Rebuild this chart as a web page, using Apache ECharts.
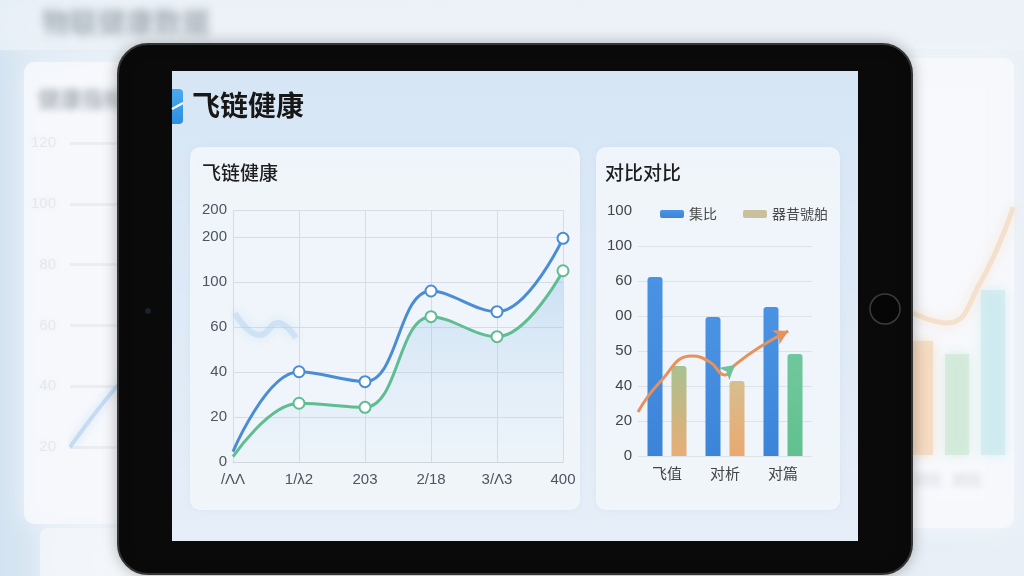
<!DOCTYPE html>
<html><head><meta charset="utf-8">
<script src="https://cdn.jsdelivr.net/npm/echarts@6/dist/echarts.min.js"></script>
<style>html,body{margin:0;padding:0;background:#e6eef6;}#c{width:1024px;height:576px;}</style>
</head><body><div id="c"></div>
<script>
// ---------- text ----------
const pageTitle = '飞链健康';
const lineCardTitle = '飞链健康';
const barCardTitle = '对比对比';
const bgPageTitle = '物联健康数据';
const bgPanelTitle = '健康指标数据';

// ---------- line chart ----------
const lineCats = ['/ΛΛ', '1/λ2', '203', '2/18', '3/Λ3', '400'];
const lineBlue = [4.6, 40.1, 35.7, 76.0, 66.8, 99.4];
const lineGreen = [2.4, 26.1, 24.3, 64.6, 55.7, 85.0];
const lineTickValues = [0, 20, 40, 60, 80, 100, 112];
const lineTickLabels = ['0', '20', '40', '60', '100', '200', '200'];
const ghostLine = [[0.03, 66.2], [0.41, 56.4], [0.68, 61.8], [0.95, 55.1]];

// ---------- bar chart ----------
const barCats = ['飞值', '对析', '对篇'];
const barLegend = ['集比', '器昔號舶'];
const barBlue = [102.3, 79.4, 85.1];
const barSecond = [51.4, 42.9, 58.3];
const barTickValues = [0, 20, 40, 60, 80, 100, 120, 140];
const barTickLabels = ['0', '20', '40', '50', '00', '60', '100', '100'];
const trendLine = [[0, 25.1], [0.38, 42.3], [0.93, 57.1], [1.24, 53.7], [1.5, 46.3], [1.67, 52], [2.1, 62.3], [2.59, 71.4]];

// ---------- blurred background charts ----------
const bgRightBars = [[0.5, 38], [1.5, 33.7], [2.5, 55]];
const bgRightLine = [[0.28, 47.3], [1.22, 44], [2.14, 57.3], [3.06, 82.7]];
const bgLeftLine = [[0, 20], [0.5, 41], [1, 55]];
const bgLeftTicks = ['20', '40', '60', '80', '100', '120'];

// ---------- styles ----------
const FF = '"Noto Sans CJK SC", "Noto Sans", sans-serif';
const NF = '"Liberation Sans", "Noto Sans CJK SC", sans-serif';
const BLUE = '#4a8dd4';
const GREEN = '#5fbd91';
const ORANGE = '#e8925a';
const secondBarColors = [
  ['#a9c18f', '#e9ad77'],
  ['#d7bf8f', '#eaa870'],
  ['#6fc89c', '#62c08f']
];
const bgBarColors = ['#f3d6b8', '#cde8d5', '#cbeaee'];
const grad = (c) => new echarts.graphic.LinearGradient(0, 0, 0, 1, [{offset: 0, color: c[0]}, {offset: 1, color: c[1]}]);
const hidden = {show: false};

const chart = echarts.init(document.getElementById('c'), null, {renderer: 'canvas'});

const OFF = 3000; // off-canvas trick for blurred (shadow-only) text

const option = {
  animation: false,
  textStyle: {fontFamily: FF},
  title: [
    {text: pageTitle, left: 192, top: 91, padding: 0, textStyle: {fontSize: 28, fontWeight: 'bold', color: '#171717', fontFamily: FF}},
    {text: lineCardTitle, left: 202, top: 163, padding: 0, textStyle: {fontSize: 19, fontWeight: 500, color: '#1e1e1e', fontFamily: FF}},
    {text: barCardTitle, left: 605, top: 163, padding: 0, textStyle: {fontSize: 19, fontWeight: 500, color: '#1e1e1e', fontFamily: FF}}
  ],
  legend: {
    left: 660, top: 207, padding: 0, itemWidth: 24, itemHeight: 8, itemGap: 26,
    textStyle: {fontSize: 14, color: '#4a4a4a', fontFamily: FF},
    data: [{name: barLegend[0]}, {name: barLegend[1], itemStyle: {color: '#c9c19b'}}]
  },
  graphic: [
    {type: 'rect', z: -100, shape: {x: 0, y: 0, width: 1024, height: 576},
      style: {fill: new echarts.graphic.LinearGradient(0, 0, 1, 0, [{offset: 0, color: '#d3e3f1'}, {offset: 0.12, color: '#e5edf5'}, {offset: 1, color: '#e8eff6'}])}},
    {type: 'rect', z: -95, shape: {x: 0, y: 0, width: 1024, height: 50},
      style: {fill: 'rgba(236,242,248,0.7)', shadowBlur: 20, shadowColor: 'rgba(236,242,248,0.8)'}},
    {type: 'rect', z: -90, shape: {x: 24, y: 62, width: 190, height: 462, r: 10},
      style: {fill: 'rgba(247,249,252,0.8)', shadowBlur: 24, shadowColor: 'rgba(247,249,252,0.9)'}},
    {type: 'rect', z: -90, shape: {x: 890, y: 58, width: 124, height: 470, r: 10},
      style: {fill: 'rgba(247,249,252,0.8)', shadowBlur: 24, shadowColor: 'rgba(247,249,252,0.9)'}},
    {type: 'rect', z: -90, shape: {x: 40, y: 528, width: 160, height: 60, r: 8},
      style: {fill: 'rgba(245,248,251,0.7)', shadowBlur: 20, shadowColor: 'rgba(245,248,251,0.8)'}},
    {type: 'text', z: -85, x: 42 - OFF, y: 8,
      style: {text: bgPageTitle, font: 'bold 28px ' + FF, fill: '#000', textShadowColor: 'rgba(80,90,105,0.45)', textShadowBlur: 9, textShadowOffsetX: OFF}},
    {type: 'text', z: -85, x: 38 - OFF, y: 88,
      style: {text: bgPanelTitle, font: 'bold 22px ' + FF, fill: '#000', textShadowColor: 'rgba(80,90,105,0.45)', textShadowBlur: 7, textShadowOffsetX: OFF}},
    {type: 'text', z: -85, x: 912 - OFF, y: 472,
      style: {text: '对比   对比', font: '15px ' + FF, fill: '#000', textShadowColor: 'rgba(90,100,115,0.3)', textShadowBlur: 6, textShadowOffsetX: OFF}},
    // tablet
    {type: 'rect', z: -10, shape: {x: 118, y: 44, width: 794, height: 530, r: 30},
      style: {fill: '#0a0a0a', stroke: '#353535', lineWidth: 2, shadowBlur: 14, shadowColor: 'rgba(0,0,0,0.25)'}},
    {type: 'circle', z: -9, shape: {cx: 148, cy: 311, r: 3}, style: {fill: '#1a222e'}},
    {type: 'circle', z: -9, shape: {cx: 885, cy: 309, r: 15}, style: {fill: '#060606', stroke: '#3c3c3c', lineWidth: 1.5}},
    {type: 'rect', z: -9, shape: {x: 172, y: 71, width: 686, height: 470},
      style: {fill: new echarts.graphic.LinearGradient(0, 0, 0, 1, [{offset: 0, color: '#d6e6f5'}, {offset: 1, color: '#e6eef8'}])}},
    {type: 'rect', z: -8, shape: {x: 172, y: 89, width: 11, height: 35, r: [0, 4, 4, 0]},
      style: {fill: new echarts.graphic.LinearGradient(0, 0, 0, 1, [{offset: 0, color: '#4aaaf0'}, {offset: 1, color: '#2e8ee0'}])}},
    {type: 'line', z: -7, shape: {x1: 172, y1: 109, x2: 183, y2: 103}, style: {stroke: '#ffffff', lineWidth: 2}},
    {type: 'rect', z: -8, shape: {x: 190, y: 147, width: 390, height: 363, r: 10},
      style: {fill: 'rgba(243,247,251,0.88)', shadowBlur: 6, shadowColor: 'rgba(140,165,195,0.15)'}},
    {type: 'rect', z: -8, shape: {x: 596, y: 147, width: 244, height: 363, r: 10},
      style: {fill: 'rgba(243,247,251,0.88)', shadowBlur: 6, shadowColor: 'rgba(140,165,195,0.15)'}}
  ],
  grid: [
    {left: 233, top: 210, width: 330, height: 252},
    {left: 638, top: 211, width: 174, height: 245},
    {left: 903, top: 155, width: 115.2, height: 300},
    {left: 70, top: 143, width: 100, height: 304}
  ],
  xAxis: [
    {type: 'category', gridIndex: 0, data: lineCats, boundaryGap: false,
      axisLine: {lineStyle: {color: '#cfd6de'}}, axisTick: hidden,
      axisLabel: {margin: 10, fontSize: 15, color: '#4d5561', fontFamily: NF},
      splitLine: {show: true, lineStyle: {color: '#d6dce4'}}},
    {type: 'category', gridIndex: 1, data: barCats,
      axisLine: hidden, axisTick: hidden,
      axisLabel: {margin: 10, fontSize: 15, color: '#444', fontFamily: FF}, splitLine: hidden},
    {type: 'value', gridIndex: 0, min: 0, max: 5, show: false},
    {type: 'value', gridIndex: 1, min: 0, max: 3, show: false},
    {type: 'value', gridIndex: 2, min: 0, max: 3.2, show: false},
    {type: 'value', gridIndex: 3, min: 0, max: 1, show: false}
  ],
  yAxis: [
    {type: 'value', gridIndex: 0, min: 0, max: 112, interval: 20,
      axisLine: hidden, axisTick: hidden,
      axisLabel: {margin: 6, fontSize: 15, color: '#4d5561', fontFamily: NF,
        formatter: (v) => { const i = lineTickValues.indexOf(v); return i >= 0 ? lineTickLabels[i] : ''; }},
      splitLine: {lineStyle: {color: '#d6dce4'}}},
    {type: 'value', gridIndex: 1, min: 0, max: 140, interval: 20,
      axisLine: hidden, axisTick: hidden,
      axisLabel: {margin: 6, fontSize: 15, color: '#444', fontFamily: NF,
        formatter: (v) => { const i = barTickValues.indexOf(v); return i >= 0 ? barTickLabels[i] : ''; }},
      splitLine: {showMaxLine: false, lineStyle: {color: '#dde2e8'}}},
    {type: 'value', gridIndex: 2, min: 0, max: 100, show: false},
    {type: 'value', gridIndex: 3, min: 20, max: 120, interval: 20, z: -60,
      axisLine: hidden, axisTick: hidden,
      axisLabel: {margin: 14, fontSize: 15, color: 'rgba(160,168,178,0.18)', fontFamily: NF,
        textShadowColor: 'rgba(150,158,170,0.6)', textShadowBlur: 8,
        formatter: (v) => bgLeftTicks[(v - 20) / 20] || ''},
      splitLine: {lineStyle: {color: 'rgba(220,226,233,0.45)', width: 3}}}
  ],
  series: [
    // blurred background charts
    {type: 'bar', xAxisIndex: 4, yAxisIndex: 2, z: -60, barWidth: 24,
      data: bgRightBars.map((d, i) => ({value: d, itemStyle: {color: bgBarColors[i], opacity: 0.7, shadowBlur: 12, shadowColor: bgBarColors[i]}}))},
    {type: 'line', xAxisIndex: 4, yAxisIndex: 2, z: -59, smooth: 0.5, symbol: 'none', data: bgRightLine,
      lineStyle: {color: 'rgba(243,214,182,0.6)', width: 5, shadowBlur: 12, shadowColor: 'rgba(243,214,182,0.9)'}},
    {type: 'line', xAxisIndex: 5, yAxisIndex: 3, z: -59, smooth: 0.3, symbol: 'none', data: bgLeftLine,
      lineStyle: {color: 'rgba(150,192,232,0.45)', width: 4, shadowBlur: 10, shadowColor: 'rgba(150,192,232,0.8)'}},
    // ghost reflection on the screen
    {type: 'line', xAxisIndex: 2, yAxisIndex: 0, z: 1, smooth: 0.5, symbol: 'none', data: ghostLine,
      lineStyle: {color: 'rgba(175,207,240,0.4)', width: 6, shadowBlur: 10, shadowColor: 'rgba(175,207,240,0.9)'}},
    // main line chart
    {name: 'green', type: 'line', xAxisIndex: 0, yAxisIndex: 0, smooth: 0.4,
      symbol: 'emptyCircle', symbolSize: 11, showSymbol: true,
      data: lineGreen.map((v, i) => i === 0 ? {value: v, symbol: 'none'} : v),
      itemStyle: {color: GREEN, borderWidth: 2.5},
      lineStyle: {color: GREEN, width: 3},
      areaStyle: {color: new echarts.graphic.LinearGradient(0, 0, 0, 1, [{offset: 0, color: 'rgba(120,178,230,0.45)'}, {offset: 1, color: 'rgba(180,212,242,0.06)'}])}},
    {name: 'blue', type: 'line', xAxisIndex: 0, yAxisIndex: 0, smooth: 0.4,
      symbol: 'emptyCircle', symbolSize: 11, showSymbol: true,
      data: lineBlue.map((v, i) => i === 0 ? {value: v, symbol: 'none'} : v),
      itemStyle: {color: BLUE, borderWidth: 2.5},
      lineStyle: {color: BLUE, width: 3}},
    // bar chart
    {name: barLegend[0], type: 'bar', xAxisIndex: 1, yAxisIndex: 1, barWidth: 15, barGap: '60%',
      data: barBlue,
      itemStyle: {color: grad(['#4a93e4', '#3b84d8']), borderRadius: [3, 3, 0, 0]}},
    {name: barLegend[1], type: 'bar', xAxisIndex: 1, yAxisIndex: 1, barWidth: 15,
      color: '#c9c19b',
      data: barSecond.map((v, i) => ({value: v, itemStyle: {color: grad(secondBarColors[i])}})),
      itemStyle: {borderRadius: [3, 3, 0, 0]}},
    {type: 'line', xAxisIndex: 3, yAxisIndex: 1, z: 4, smooth: 0.5, symbol: 'none',
      data: trendLine.map((d, i) => {
        if (i === 5) return {value: d, symbol: 'arrow', symbolSize: [12, 14], symbolRotate: -50, itemStyle: {color: '#6cc39a'}};
        if (i === trendLine.length - 1) return {value: d, symbol: 'arrow', symbolSize: [12, 14], symbolRotate: -63, itemStyle: {color: ORANGE}};
        return d;
      }),
      lineStyle: {color: ORANGE, width: 3}}
  ]
};
chart.setOption(option);
</script>
</body></html>
